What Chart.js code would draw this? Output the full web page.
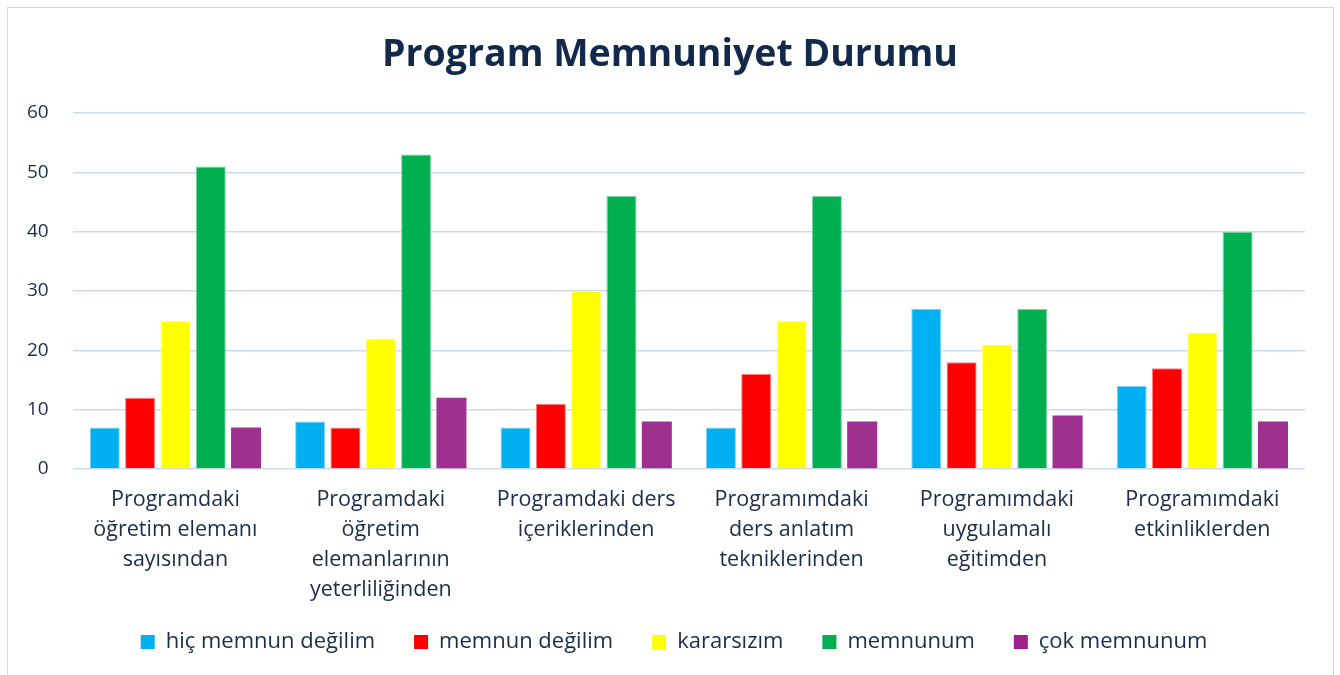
<!DOCTYPE html>
<html>
<head>
<meta charset="utf-8">
<script src="https://cdn.jsdelivr.net/npm/chart.js@4"></script>
<style>
  html, body { margin: 0; padding: 0; background: #fff; overflow: hidden; }
  #frame { position: absolute; left: 7px; top: 7px; width: 1325px; height: 700px; border: 1.5px solid #c9dbf0; }
  #wrap { position: absolute; left: 0; top: 0; width: 1340px; height: 675px; }
</style>
</head>
<body>
<div id="frame"></div>
<div id="wrap"><canvas id="myChart"></canvas></div>
<script>
const categories = [
  ["Programdaki", "öğretim elemanı", "sayısından"],
  ["Programdaki", "öğretim", "elemanlarının", "yeterliliğinden"],
  ["Programdaki ders", "içeriklerinden"],
  ["Programımdaki", "ders anlatım", "tekniklerinden"],
  ["Programımdaki", "uygulamalı", "eğitimden"],
  ["Programımdaki", "etkinliklerden"]
];
const seriesNames = ["hiç memnun değilim", "memnun değilim", "kararsızım", "memnunum", "çok memnunum"];
const hicMemnunDegilim = [7, 8, 7, 7, 27, 14];
const memnunDegilim = [12, 7, 11, 16, 18, 17];
const kararsizim = [25, 22, 30, 25, 21, 23];
const memnunum = [51, 53, 46, 46, 27, 40];
const cokMemnunum = [7, 12, 8, 8, 9, 8];
const yTicks = [0, 10, 20, 30, 40, 50, 60];

const textColor = '#1b2d4b';
const gridColor = '#cbdcf0';
const fontFamily = "'Open Sans', 'Noto Sans', sans-serif";

// purple bars fade from a lighter top to a deeper bottom
function purpleBar(context) {
  const chart = context.chart;
  const el = context.element;
  if (!chart.chartArea || !el) return '#a0308f';
  const top = el.y;
  const bottom = el.base;
  if (!isFinite(top) || !isFinite(bottom) || top === bottom) return '#a0308f';
  const g = chart.ctx.createLinearGradient(0, top, 0, bottom);
  g.addColorStop(0, '#b05aa3');
  g.addColorStop(0.5, '#a1218f');
  g.addColorStop(1, '#941886');
  return g;
}

// title and legend are centred on the whole canvas, not on the padded box;
// the x labels may run down into the legend's band without being clipped
const tweakLayout = {
  id: 'tweakLayout',
  afterLayout(chart) {
    const shifts = [[chart.titleBlock, 16], [chart.legend, 20]];
    shifts.forEach(([box, shift]) => {
      if (!box) return;
      box.left += shift;
      box.right += shift;
    });
    if (chart.scales.x) chart.scales.x.bottom += 40;
  }
};

const ctx = document.getElementById('myChart');

new Chart(ctx, {
  type: 'bar',
  data: {
    labels: categories,
    datasets: [{
      label: seriesNames[0],
      data: hicMemnunDegilim,
      backgroundColor: '#00b0f0',
      borderColor: '#7fd6f7',
      borderWidth: 1
    }, {
      label: seriesNames[1],
      data: memnunDegilim,
      backgroundColor: '#ff0000',
      borderColor: '#ff7f7f',
      borderWidth: 1
    }, {
      label: seriesNames[2],
      data: kararsizim,
      backgroundColor: '#ffff00',
      borderColor: '#ffff8f',
      borderWidth: 1
    }, {
      label: seriesNames[3],
      data: memnunum,
      backgroundColor: '#00b050',
      borderColor: '#7fd7a7',
      borderWidth: 1
    }, {
      label: seriesNames[4],
      data: cokMemnunum,
      backgroundColor: purpleBar,
      borderWidth: 0
    }]
  },
  plugins: [tweakLayout],
  options: {
    responsive: true,
    maintainAspectRatio: false,
    animation: false,
    datasets: {
      bar: { categoryPercentage: 0.86, barPercentage: 0.85 }
    },
    layout: { padding: { top: 22, left: 3, right: 35, bottom: 12 } },
    plugins: {
      title: {
        display: true,
        text: 'Program Memnuniyet Durumu',
        color: '#13294b',
        font: { family: fontFamily, size: 37.5, weight: 'bold' },
        padding: { top: 11, bottom: 35 }
      },
      legend: {
        position: 'bottom',
        labels: {
          color: textColor,
          font: { family: fontFamily, size: 22 },
          boxWidth: 14,
          boxHeight: 14,
          padding: 39,
          generateLabels: function (chart) {
            const fills = ['#00b0f0', '#ff0000', '#ffff00', '#00b050', '#a01f8e'];
            return chart.data.datasets.map((ds, i) => ({
              text: ds.label,
              fillStyle: fills[i],
              strokeStyle: fills[i],
              lineWidth: 0,
              fontColor: textColor,
              datasetIndex: i
            }));
          }
        }
      },
      tooltip: { enabled: false }
    },
    scales: {
      x: {
        grid: { display: false, drawTicks: false },
        border: { display: false },
        ticks: {
          color: textColor,
          font: { family: fontFamily, size: 21.5, lineHeight: 1.4 },
          maxRotation: 0,
          autoSkip: false,
          padding: 16
        },
        afterFit: function (axis) {
          axis.height = 123;
        }
      },
      y: {
        min: 0,
        max: 60,
        afterBuildTicks: function (axis) {
          axis.ticks = yTicks.map(v => ({ value: v }));
        },
        grid: { color: gridColor, lineWidth: 1.5, drawTicks: false },
        border: { display: false },
        ticks: {
          color: textColor,
          font: { family: fontFamily, size: 19 },
          padding: 24
        }
      }
    }
  }
});
</script>
</body>
</html>
